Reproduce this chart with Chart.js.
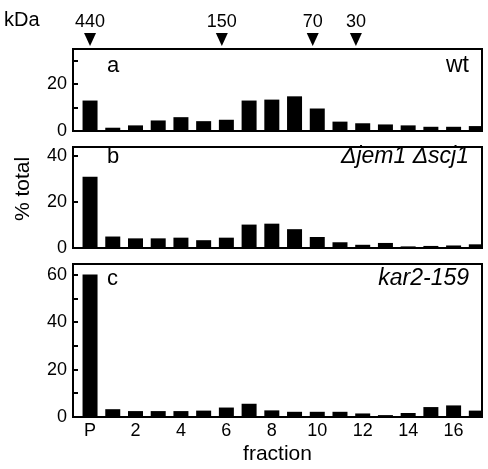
<!DOCTYPE html>
<html>
<head>
<meta charset="utf-8">
<script src="https://cdn.jsdelivr.net/npm/chart.js@4/dist/chart.umd.min.js"></script>
<style>
  body { margin: 0; background: #fff; }
  #wrap { position: relative; width: 488px; height: 469px; font-family: 'Liberation Sans', Arial, sans-serif; }
  canvas { position: absolute; left: 0; }
  .txt { position: absolute; color: #000; white-space: nowrap; }
</style>
</head>
<body>
<div id="wrap">
  <canvas id="panelA" width="488" height="140" style="top:0"></canvas>
  <canvas id="panelB" width="488" height="116" style="top:140px"></canvas>
  <canvas id="panelC" width="488" height="213" style="top:256px"></canvas>
  <div class="txt" style="left:4px; top:8px; font-size:20px;">kDa</div>
  <div class="txt" style="left:10px; top:221px; font-size:21px; transform: rotate(-90deg); transform-origin: 0 0;">% total</div>
</div>
<script>
// datos
const fractions = ['P', '1', '2', '3', '4', '5', '6', '7', '8', '9', '10', '11', '12', '13', '14', '15', '16', '17'];
const wtValues = [13, 1.4, 2.4, 4.5, 5.9, 4.2, 4.8, 13, 13.4, 14.8, 9.6, 4.0, 3.3, 2.8, 2.4, 1.8, 1.8, 2.1];
const jemScjValues = [31, 5, 4.2, 4.2, 4.5, 3.4, 4.5, 10.2, 10.6, 8.2, 4.8, 2.5, 1.4, 2.2, 0.7, 0.9, 1.1, 1.6];
const kar2Values = [60.3, 3.3, 2.5, 2.5, 2.5, 2.7, 4.0, 5.6, 2.8, 2.2, 2.2, 2.2, 1.5, 0.8, 1.7, 4.2, 4.9, 2.7];
const xTickValues = [0, 2, 4, 6, 8, 10, 12, 14, 16];
const yTicksA = [0, 10, 20, 30];
const yTicksB = [0, 10, 20, 30, 40];
const yTicksC = [0, 10, 20, 30, 40, 50, 60];
// marcadores de peso molecular (posición en fracciones)
const markerLabels = ['440', '150', '70', '30'];
const markerPos = [0, 5.8, 9.8, 11.7];

Chart.defaults.font.family = "'Liberation Sans', Arial, sans-serif";
Chart.defaults.color = '#000';

// marco negro y marcas hacia dentro del eje y
const framePlugin = {
    id: 'frame',
    afterDatasetsDraw(chart) {
        const ctx = chart.ctx;
        const a = chart.chartArea;
        const y = chart.scales.y;
        ctx.save();
        ctx.strokeStyle = '#000';
        ctx.lineWidth = 2;
        ctx.strokeRect(a.left, a.top, a.right - a.left, a.bottom - a.top);
        y.ticks.forEach(function(t) {
            if (t.value === 0) return;
            const py = Math.round(y.getPixelForValue(t.value));
            ctx.beginPath();
            ctx.moveTo(a.left, py);
            ctx.lineTo(a.left + 5, py);
            ctx.stroke();
        });
        // letra del panel y cepa
        const lab = chart.options.plugins.panelLabel;
        ctx.fillStyle = '#000';
        ctx.textBaseline = 'alphabetic';
        ctx.font = "22px 'Liberation Sans', Arial, sans-serif";
        ctx.textAlign = 'left';
        ctx.fillText(lab.letter, a.left + 34, a.top + lab.dy);
        ctx.font = lab.italic ? "italic 23px 'Liberation Sans', Arial, sans-serif" : "23px 'Liberation Sans', Arial, sans-serif";
        ctx.textAlign = 'right';
        ctx.fillText(lab.strain, a.right - 13, a.top + lab.dy);
        ctx.restore();
    }
};

// triángulos de kDa sobre el panel a
const markerPlugin = {
    id: 'markers',
    afterDraw(chart) {
        const ctx = chart.ctx;
        const x = chart.scales.x;
        ctx.save();
        ctx.fillStyle = '#000';
        ctx.font = "18px 'Liberation Sans', Arial, sans-serif";
        ctx.textAlign = 'center';
        ctx.textBaseline = 'middle';
        markerPos.forEach(function(p, i) {
            const px = x.getPixelForValue(p);
            ctx.fillText(markerLabels[i], px, 22);
            ctx.beginPath();
            ctx.moveTo(px - 6, 33);
            ctx.lineTo(px + 6, 33);
            ctx.lineTo(px, 46);
            ctx.closePath();
            ctx.fill();
        });
        ctx.restore();
    }
};

function makePanel(id, values, yTicks, yMax, padTop, padBottom, label, showX, extraPlugins) {
    const ctx = document.getElementById(id).getContext('2d');
    return new Chart(ctx, {
        type: 'bar',
        data: {
            datasets: [{
                data: values.map(function(v, i) { return {x: i, y: v}; }),
                backgroundColor: '#000',
                borderWidth: 0,
                barPercentage: 0.66,
                categoryPercentage: 1
            }]
        },
        options: {
            responsive: false,
            animation: false,
            layout: { padding: { top: padTop, bottom: padBottom, left: 0, right: 6 } },
            plugins: {
                legend: { display: false },
                tooltip: { enabled: false },
                panelLabel: label
            },
            scales: {
                x: {
                    type: 'linear',
                    min: -0.75,
                    max: 17.25,
                    offset: false,
                    display: showX,
                    grid: { display: false, drawTicks: false },
                    border: { display: false },
                    afterBuildTicks: function(scale) {
                        scale.ticks = xTickValues.map(function(v) { return {value: v}; });
                    },
                    afterFit: function(scale) {
                        scale.height = showX ? 52 : 0;
                        scale.paddingLeft = 0;
                        scale.paddingRight = 0;
                    },
                    ticks: {
                        display: showX,
                        autoSkip: false,
                        maxRotation: 0,
                        padding: 3,
                        font: { size: 18 },
                        callback: function(v) { return fractions[v]; }
                    },
                    title: {
                        display: showX,
                        text: 'fraction',
                        font: { size: 21 },
                        padding: { top: 0, bottom: 2 }
                    }
                },
                y: {
                    min: 0,
                    max: yMax,
                    grid: { display: false, drawTicks: false },
                    border: { display: false },
                    afterBuildTicks: function(scale) {
                        scale.ticks = yTicks.map(function(v) { return {value: v}; });
                    },
                    afterFit: function(scale) {
                        scale.width = 73;
                        scale.paddingTop = 0;
                        scale.paddingBottom = 0;
                    },
                    ticks: {
                        padding: 6,
                        font: { size: 18 },
                        callback: function(v) { return v % 20 === 0 ? v : ''; }
                    }
                }
            }
        },
        plugins: [framePlugin].concat(extraPlugins)
    });
}

makePanel('panelA', wtValues, yTicksA, 35, 49, 9,
    { letter: 'a', strain: 'wt', italic: false, dy: 23 }, false, [markerPlugin]);
makePanel('panelB', jemScjValues, yTicksB, 44, 7, 8,
    { letter: 'b', strain: 'Δjem1 Δscj1', italic: true, dy: 16 }, false, []);
makePanel('panelC', kar2Values, yTicksC, 64.7, 8, 0,
    { letter: 'c', strain: 'kar2-159', italic: true, dy: 21 }, true, []);
</script>
</body>
</html>
